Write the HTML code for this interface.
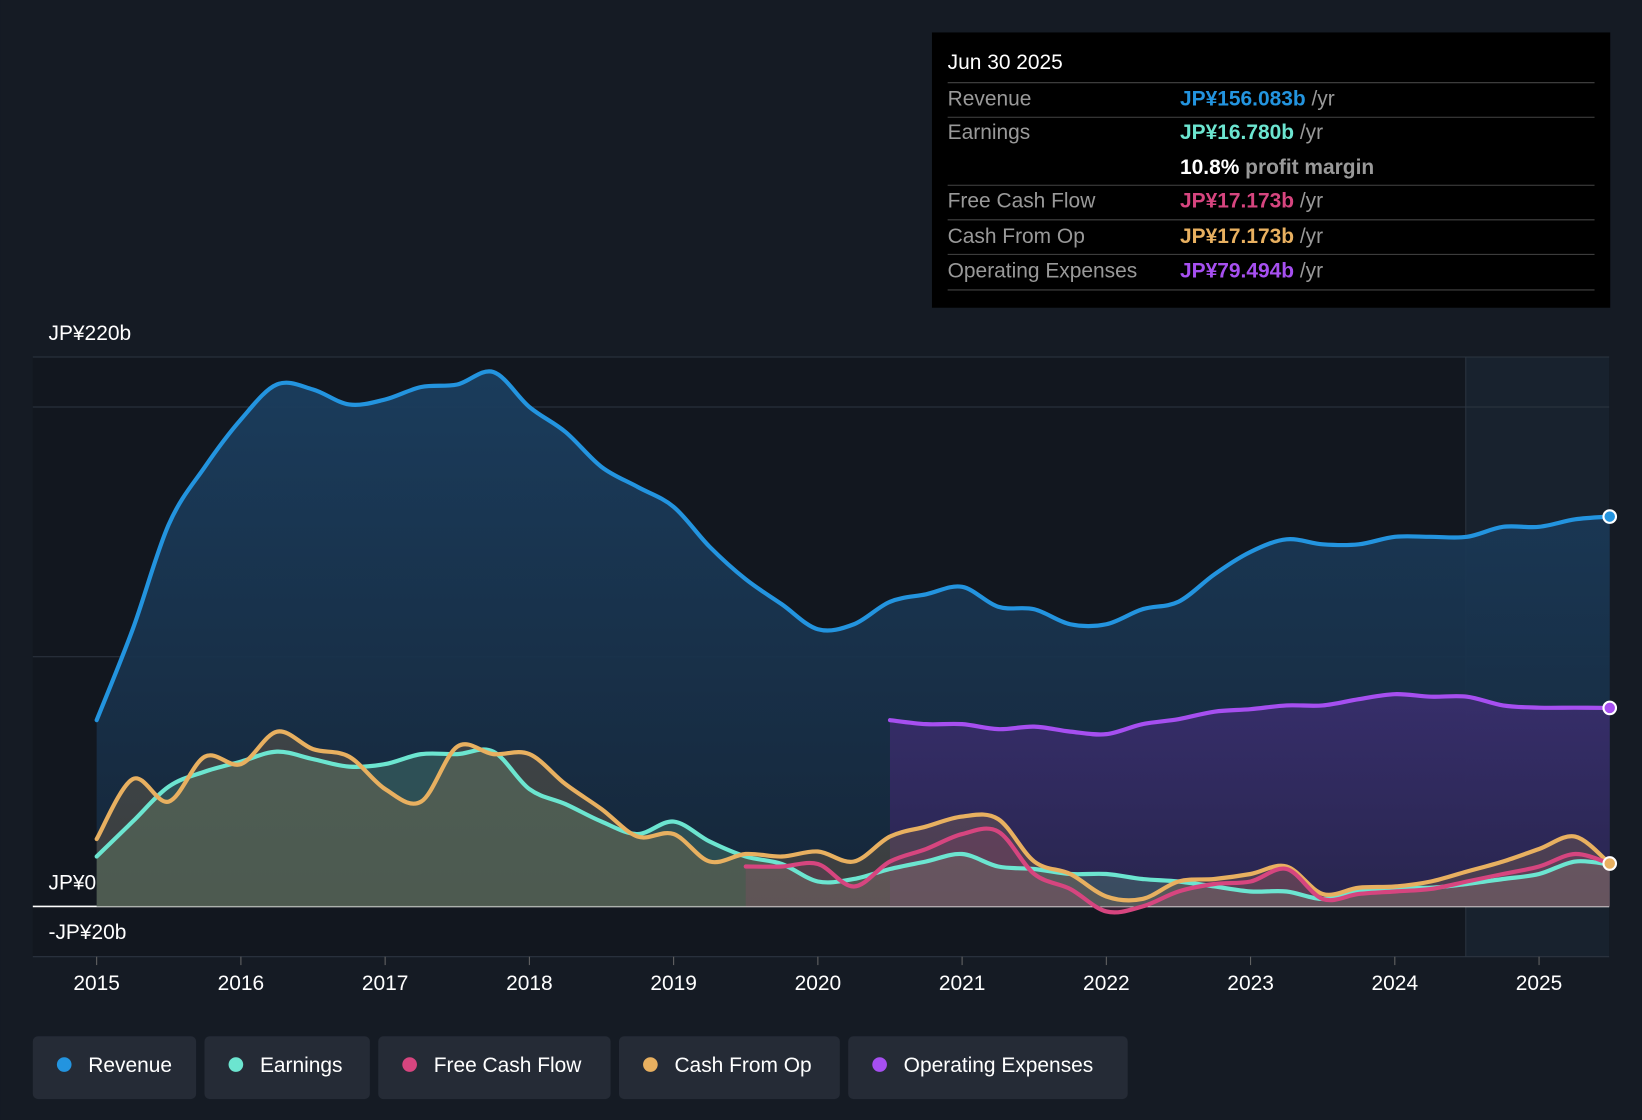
<!DOCTYPE html>
<html><head><meta charset="utf-8"><style>
html,body{margin:0;padding:0;background:#151b24;}
svg{display:block;font-family:"Liberation Sans",sans-serif;}
</style></head><body>
<svg id="chart" width="1642" height="1120" viewBox="0 0 1568 1070" xmlns="http://www.w3.org/2000/svg">
<defs>
<linearGradient id="revGrad" x1="0" y1="0" x2="0" y2="1">
<stop offset="0" stop-color="#1b3e5f" stop-opacity="0.95"/>
<stop offset="1" stop-color="#16283c" stop-opacity="0.9"/>
</linearGradient>
<linearGradient id="opGrad" x1="0" y1="0" x2="0" y2="1">
<stop offset="0" stop-color="#3a2e6e" stop-opacity="0.9"/>
<stop offset="1" stop-color="#2a2550" stop-opacity="0.9"/>
</linearGradient>
</defs>
<rect width="1568" height="1070" fill="#151b24"/>
<rect x="31" y="341" width="1506" height="573" fill="#12171f"/>
<rect x="1400" y="341" width="137" height="573" fill="#18222e"/>
<line x1="1400" y1="341" x2="1400" y2="914" stroke="#2a3440" stroke-width="1"/>
<g id="grid"></g>
<g id="areas"></g>
<g id="lines"></g>
<g id="axes"></g>
<g>
<rect x="890" y="31" width="648" height="263" fill="#000"/>
<text x="905" y="66" fill="#fff" font-size="20">Jun 30 2025</text>
<line x1="905" y1="79" x2="1523" y2="79" stroke="#444"/>
<text x="905" y="101" fill="#999" font-size="20">Revenue</text>
<text x="1127" y="101" font-size="20" font-weight="bold" fill="#2394df">JP¥156.083b <tspan fill="#999" font-weight="normal">/yr</tspan></text>
<line x1="905" y1="112" x2="1523" y2="112" stroke="#444"/>
<text x="905" y="133" fill="#999" font-size="20">Earnings</text>
<text x="1127" y="133" font-size="20" font-weight="bold" fill="#6ce5d0">JP¥16.780b <tspan fill="#999" font-weight="normal">/yr</tspan></text>
<text x="1127" y="166" font-size="20" font-weight="bold" fill="#fff">10.8% <tspan fill="#999">profit margin</tspan></text>
<line x1="905" y1="177" x2="1523" y2="177" stroke="#444"/>
<text x="905" y="198" fill="#999" font-size="20">Free Cash Flow</text>
<text x="1127" y="198" font-size="20" font-weight="bold" fill="#d6457f">JP¥17.173b <tspan fill="#999" font-weight="normal">/yr</tspan></text>
<line x1="905" y1="210" x2="1523" y2="210" stroke="#444"/>
<text x="905" y="232" fill="#999" font-size="20">Cash From Op</text>
<text x="1127" y="232" font-size="20" font-weight="bold" fill="#e8b060">JP¥17.173b <tspan fill="#999" font-weight="normal">/yr</tspan></text>
<line x1="905" y1="243" x2="1523" y2="243" stroke="#444"/>
<text x="905" y="265" fill="#999" font-size="20">Operating Expenses</text>
<text x="1127" y="265" font-size="20" font-weight="bold" fill="#a64ff0">JP¥79.494b <tspan fill="#999" font-weight="normal">/yr</tspan></text>
<line x1="905" y1="277" x2="1523" y2="277" stroke="#444"/>
</g>
<g id="legend"></g>
</svg>
<script>
const years=[2015,2015.25,2015.5,2015.75,2016,2016.25,2016.5,2016.75,2017,2017.25,2017.5,2017.75,2018,2018.25,2018.5,2018.75,2019,2019.25,2019.5,2019.75,2020,2020.25,2020.5,2020.75,2021,2021.25,2021.5,2021.75,2022,2022.25,2022.5,2022.75,2023,2023.25,2023.5,2023.75,2024,2024.25,2024.5,2024.75,2025,2025.25,2025.49];
const revenue=[74.6,111,153,176,195,209,207,201,203,208,209,214,200,190,176,168,160,144,131,121,111,113,122,125,128,120,119,113,113,119,122,133,142,147,145,145,148,148,148,152,152,155,156.1];
const earnings=[20,34,48,54,58,62,59,56,57,61,61,62,47,41,34,29,34,26,20,17,10,11,15,18,21,16,15,13,13,11,10,8,6,6,3,6,7.5,7.5,9,11,13,18,16.8];
const cashFromOp=[27,51,42,60,57,70,63,60,47,42,64,61,61,49,39,28,29,18,21,20,22,18,28,32,36,35,18,13,4,3,10,11,13,16,5,7.5,8,10,14,18,23,28,17.2];
const fcfStart=18;
const freeCashFlow=[16,16,17,8,18,23,29,30,13,7,-2,0,6,9,10,15,3,5,6,7,10,13,16,21,17.2];
const opexStart=22;
const opex=[74.6,73,73,71,72,70,69,73,75,78,79,80.5,80.5,83,85,84,84,80.5,79.6,79.6,79.5];
const yTicks=[0,100,200,220];
const xTicks=[2015,2016,2017,2018,2019,2020,2021,2022,2023,2024,2025];
const X=t=>92+(t-2015)*137.8;
const Y=v=>866-v*2.386;
const NS="http://www.w3.org/2000/svg";
function mk(tag,attrs,parent){const e=document.createElementNS(NS,tag);for(const k in attrs)e.setAttribute(k,attrs[k]);parent.appendChild(e);return e;}
function path(xs,vs){const p=xs.map((t,i)=>[X(t),Y(vs[i])]);let d="M"+p[0][0]+","+p[0][1];
for(let i=0;i<p.length-1;i++){const p0=p[i-1]||p[i],p1=p[i],p2=p[i+1],p3=p[i+2]||p2;
d+=" C"+(p1[0]+(p2[0]-p0[0])/6)+","+(p1[1]+(p2[1]-p0[1])/6)+" "+(p2[0]-(p3[0]-p1[0])/6)+","+(p2[1]-(p3[1]-p1[1])/6)+" "+p2[0]+","+p2[1];}return d;}
const grid=document.getElementById('grid'),areas=document.getElementById('areas'),lines=document.getElementById('lines'),axes=document.getElementById('axes');
yTicks.forEach(v=>{const l=mk('line',{x1:31,x2:1537,y1:Y(v),y2:Y(v),stroke:v==0?'#fff':'#2c3540','stroke-width':v==0?1.5:1},grid);

});
mk('line',{x1:31,x2:1537,y1:914,y2:914,stroke:'#2c3540'},grid);
[[220,'JP¥220b',325],[0,'JP¥0',850],[-20,'-JP¥20b',897]].forEach(a=>{const t=mk('text',{x:46,y:a[2],fill:'#fff','font-size':20},axes);t.textContent=a[1];

});
xTicks.forEach(yr=>{mk('line',{x1:X(yr),x2:X(yr),y1:914,y2:922,stroke:'#666'},axes);
const t=mk('text',{x:X(yr),y:946,fill:'#fff','font-size':20,'text-anchor':'middle'},axes);t.textContent=yr;

});
const series=[
{name:'revenue',xs:years,vs:revenue,c:'#2394df',fill:'url(#revGrad)'},
{name:'opex',xs:years.slice(opexStart),vs:opex,c:'#a64ff0',fill:'url(#opGrad)'},
{name:'earnings',xs:years,vs:earnings,c:'#6ce5d0',fill:'rgba(95,160,130,0.32)'},
{name:'cash-from-op',xs:years,vs:cashFromOp,c:'#e8b060',fill:'rgba(160,125,80,0.28)'},
{name:'free-cash-flow',xs:years.slice(fcfStart),vs:freeCashFlow,c:'#d6457f',fill:'rgba(160,70,110,0.22)'}];
series.forEach(s=>{const d=path(s.xs,s.vs);const x0=X(s.xs[0]),x1=X(s.xs[s.xs.length-1]);
const a=mk('path',{d:d+" L"+x1+","+Y(0)+" L"+x0+","+Y(0)+" Z",fill:s.fill},areas);


const l=mk('path',{d:d,fill:'none',stroke:s.c,'stroke-width':4,'stroke-linecap':'round'},lines);

});
[['#2394df',revenue],['#a64ff0',opex],['#e8b060',cashFromOp]].forEach(a=>{const c=mk('circle',{cx:X(years[years.length-1]),cy:Y(a[1][a[1].length-1]),r:6,fill:a[0],stroke:'#fff','stroke-width':2},lines);

});
const leg=document.getElementById('legend');
[['Revenue','#2394df',31,156],['Earnings','#6ce5d0',195,158],['Free Cash Flow','#d6457f',361,222],['Cash From Op','#e8b060',591,211],['Operating Expenses','#a64ff0',810,267]].forEach(l=>{
const g=mk('g',{},leg);


mk('rect',{x:l[2],y:990,width:l[3],height:60,rx:5,fill:'#252b36'},g);
mk('circle',{cx:l[2]+30,cy:1017,r:7,fill:l[1]},g);
const t=mk('text',{x:l[2]+53,y:1024,fill:'#fff','font-size':20},g);t.textContent=l[0];});
</script>
</body></html>
